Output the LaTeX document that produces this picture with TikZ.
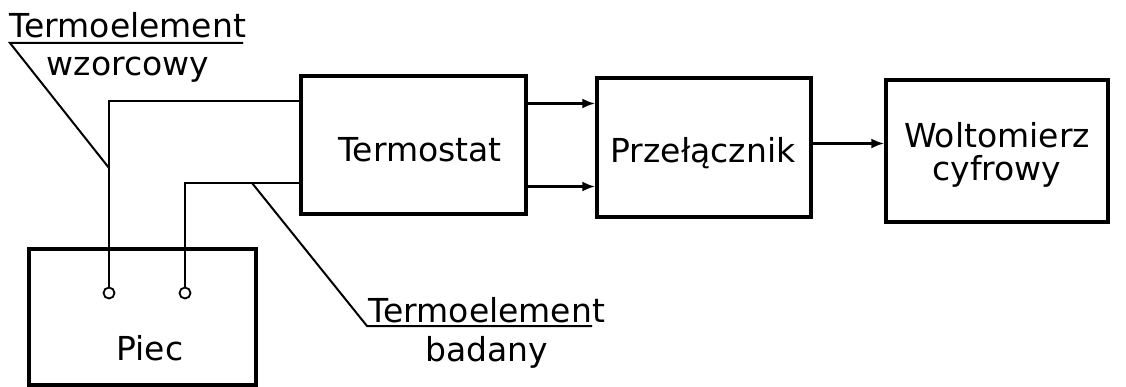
\documentclass[tikz,border=0pt]{standalone}
\usepackage{fontspec}
\setmainfont{DejaVu Sans}
\usetikzlibrary{arrows.meta}
\tikzset{
  blk/.style={draw, line width=3.4pt, inner sep=0pt},
  wire/.style={line width=2.6pt},
  lead/.style={line width=2pt},
  arr/.style={line width=2.6pt, -{Latex[length=13pt,width=10pt]}},
  probe/.style={draw, circle, line width=1.8pt, minimum size=11pt, inner sep=0pt, fill=white},
  txt/.style={font=\fontsize{33}{34}\selectfont, inner sep=0pt, anchor=base},
}
\begin{document}
\begin{tikzpicture}[x=1pt,y=-1pt]
\useasboundingbox (0,0) rectangle (1126,387);

% blocks
\node[blk, minimum width=227pt, minimum height=136pt] (piec) at (142.5,317) {};
\node[blk, minimum width=225pt, minimum height=138pt] (term) at (413.5,145) {};
\node[blk, minimum width=214pt, minimum height=139pt] (przel) at (704,147.5) {};
\node[blk, minimum width=222pt, minimum height=142pt] (wolt) at (997,151) {};

% block labels
\node[txt] (tpiec) at (150,360) {Piec};
\node[txt] (tterm) at (420,162) {Termostat};
\node[txt] (tprzel) at (703,163) {Przełącznik};
\node[txt] (twolt1) at (997,148) {Woltomierz};
\node[txt] (twolt2) at (997,181) {cyfrowy};

% thermocouple junctions inside the furnace
\node[probe] (p1) at (109,293) {};
\node[probe] (p2) at (185,293) {};

% thermocouple leads to the thermostat
\draw[wire] (p1.north) |- ([yshift=44pt]term.west);
\draw[wire] (p2.north) |- ([yshift=-38pt]term.west);

% thermostat -> switch
\draw[arr] ([yshift=41.5pt]term.east) coordinate (a1) -- (a1 -| przel.west);
\draw[arr] ([yshift=-41.5pt]term.east) coordinate (a2) -- (a2 -| przel.west);

% switch -> voltmeter
\draw[arr] ([yshift=4pt]przel.east) coordinate (a3) -- (a3 -| wolt.west);

% reference thermocouple label
\node[txt] (lw1) at (128,38) {Termoelement};
\node[txt] (lw2) at (128,76) {wzorcowy};
\coordinate (uw1) at (10,43);
\coordinate (uw2) at (243,43);
\coordinate (hw) at (109,168);
\draw[lead] (uw2) -- (uw1) -- (hw);

% tested thermocouple label
\node[txt] (lb1) at (487,322) {Termoelement};
\node[txt] (lb2) at (487,361) {badany};
\coordinate (ub1) at (367,326);
\coordinate (ub2) at (592,326);
\coordinate (hb) at (252,183);
\draw[lead] (ub2) -- (ub1) -- (hb);
\end{tikzpicture}
\end{document}
